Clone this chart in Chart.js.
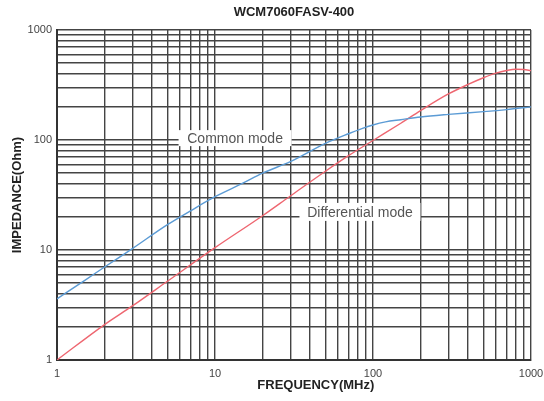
<!DOCTYPE html>
<html>
<head>
<meta charset="utf-8">
<script src="https://cdn.jsdelivr.net/npm/chart.js@4.4.0/dist/chart.umd.min.js"></script>
<style>
  html, body { margin: 0; padding: 0; background: #fff; }
</style>
</head>
<body>
<canvas id="chart" width="544" height="401"></canvas>
<script>
// grid values for both log axes (1..1000)
const freqTicks = [1, 2, 3, 4, 5, 6, 7, 8, 9, 10, 20, 30, 40, 50, 60, 70, 80, 90,
                   100, 200, 300, 400, 500, 600, 700, 800, 900, 1000];
const impTicks = freqTicks.slice();
const decadeLabels = [1, 10, 100, 1000];

// Common mode impedance (Ohm) vs frequency (MHz)
const commonFreq = [1, 1.5, 2, 3, 5, 7, 10, 15, 20, 30, 50, 70, 85, 100, 120, 150, 200, 300, 500, 700, 1000];
const commonZ    = [3.6, 5.3, 7.0, 10.3, 17, 22.7, 30.5, 40.5, 50, 63.5, 93, 114, 127, 137, 146, 153, 162, 171, 181, 189, 200];

// Differential mode impedance (Ohm) vs frequency (MHz)
const diffFreq = [1, 2, 3, 5, 10, 20, 30, 50, 70, 100, 150, 200, 300, 400, 500, 600, 700, 800, 900, 1000];
const diffZ    = [1.0, 2.1, 3.1, 5.2, 10.5, 20.5, 31, 52, 72, 99, 142, 185, 262, 320, 368, 405, 428, 440, 437, 427];

const toPoints = (xs, ys) => xs.map((x, i) => ({ x: x, y: ys[i] }));

// boxed captions placed on the plot
const notes = [
  { text: 'Common mode', f: 13.4, z: 104, w: 113, h: 16 },
  { text: 'Differential mode', f: 82.7, z: 22.2, w: 121, h: 18 }
];

const notePlugin = {
  id: 'notePlugin',
  beforeDatasetsDraw(chart) {
    const { ctx, scales } = chart;
    ctx.save();
    ctx.font = '14px "Liberation Sans", Arial, sans-serif';
    ctx.textAlign = 'center';
    ctx.textBaseline = 'middle';
    notes.forEach(n => {
      const px = scales.x.getPixelForValue(n.f);
      const py = scales.y.getPixelForValue(n.z);
      ctx.fillStyle = '#fff';
      ctx.fillRect(px - n.w / 2, py - n.h / 2, n.w, n.h);
      ctx.fillStyle = '#555';
      ctx.fillText(n.text, px, py + 1);
    });
    ctx.restore();
  },
  afterDraw(chart) {
    // x axis caption sits right of centre in the original
    const { ctx, chartArea } = chart;
    ctx.save();
    ctx.font = 'bold 13px "Liberation Sans", Arial, sans-serif';
    ctx.fillStyle = '#222';
    ctx.textAlign = 'center';
    ctx.textBaseline = 'middle';
    ctx.fillText('FREQUENCY(MHz)', chartArea.left + (chartArea.right - chartArea.left) * 0.546, 385);
    ctx.restore();
  }
};

const gridStyle = {
  color: '#444',
  lineWidth: 1.4,
  drawTicks: false
};

const tickFont = { family: '"Liberation Sans", Arial, sans-serif', size: 11 };

new Chart(document.getElementById('chart'), {
  type: 'line',
  data: {
    datasets: [
      {
        label: 'Common mode',
        data: toPoints(commonFreq, commonZ),
        borderColor: '#5b9bd5',
        borderWidth: 1.4,
        pointRadius: 0,
        cubicInterpolationMode: 'monotone',
        fill: false
      },
      {
        label: 'Differential mode',
        data: toPoints(diffFreq, diffZ),
        borderColor: '#ee6670',
        borderWidth: 1.4,
        pointRadius: 0,
        cubicInterpolationMode: 'monotone',
        fill: false
      }
    ]
  },
  options: {
    responsive: false,
    animation: false,
    devicePixelRatio: 1,
    layout: { padding: { left: 0, right: 13, top: 0, bottom: 0 } },
    plugins: {
      legend: { display: false },
      tooltip: { enabled: false },
      title: {
        display: true,
        text: 'WCM7060FASV-400',
        fullSize: false,
        color: '#222',
        font: { family: '"Liberation Sans", Arial, sans-serif', size: 13, weight: 'bold' },
        padding: { top: 5, bottom: 9.4 }
      }
    },
    scales: {
      x: {
        type: 'logarithmic',
        min: 1,
        max: 1000,
        afterBuildTicks: axis => { axis.ticks = freqTicks.map(v => ({ value: v })); },
        afterFit: axis => {
          axis.height = 41;
          axis.paddingLeft = 0;
          axis.paddingRight = 0;
        },
        ticks: {
          autoSkip: false,
          maxRotation: 0,
          padding: 7,
          color: '#444',
          font: tickFont,
          callback: v => decadeLabels.includes(v) ? String(v) : ''
        },
        grid: gridStyle,
        border: { color: '#333', width: 2 }
      },
      y: {
        type: 'logarithmic',
        min: 1,
        max: 1000,
        afterBuildTicks: axis => { axis.ticks = impTicks.map(v => ({ value: v })); },
        afterFit: axis => {
          axis.width = 57;
          axis.paddingTop = 0;
          axis.paddingBottom = 0;
        },
        ticks: {
          autoSkip: false,
          padding: 5,
          color: '#444',
          font: tickFont,
          callback: v => decadeLabels.includes(v) ? String(v) : ''
        },
        grid: gridStyle,
        border: { color: '#333', width: 2 },
        title: {
          display: true,
          text: 'IMPEDANCE(Ohm)',
          color: '#222',
          font: { family: '"Liberation Sans", Arial, sans-serif', size: 13, weight: 'bold' },
          padding: { top: 10, bottom: 0 }
        }
      }
    }
  },
  plugins: [notePlugin]
});
</script>
</body>
</html>
